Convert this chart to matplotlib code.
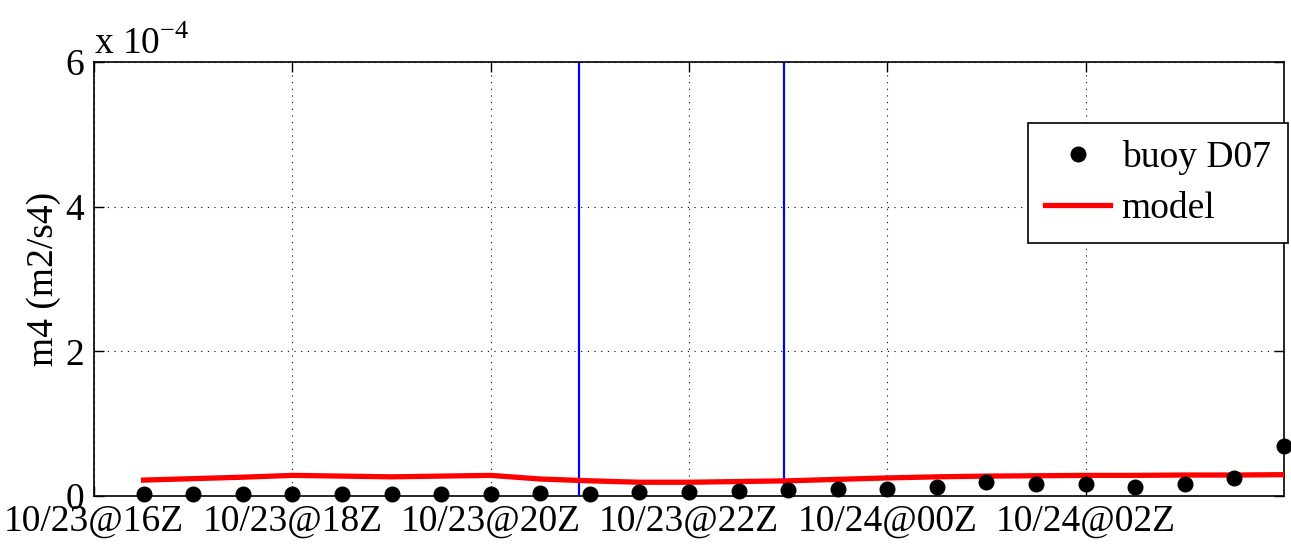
import matplotlib
matplotlib.use("Agg")
import matplotlib.pyplot as plt
import numpy as np

plt.rcParams['font.family'] = ['Liberation Serif', 'DejaVu Serif']
plt.rcParams['mathtext.fontset'] = 'custom'
plt.rcParams['mathtext.rm'] = 'Liberation Serif'

# time in hours since 10/23 16Z
hours = [0.5, 1.0, 1.5, 2.0, 2.5, 3.0, 3.5, 4.0, 4.5, 5.0, 5.5, 6.0,
         6.5, 7.0, 7.5, 8.0, 8.5, 9.0, 9.5, 10.0, 10.5, 11.0, 11.5, 12.0]

buoy_m4 = [2.8e-6, 2.8e-6, 2.8e-6, 2.8e-6, 2.8e-6, 2.8e-6, 2.8e-6, 2.8e-6,
           4.5e-6, 2.8e-6, 5.1e-6, 6.0e-6, 7.4e-6, 8.3e-6, 9.2e-6, 9.2e-6,
           1.29e-5, 1.98e-5, 1.61e-5, 1.61e-5, 1.20e-5, 1.66e-5, 2.44e-5, 6.96e-5]

model_m4 = [2.2e-5, 2.4e-5, 2.6e-5, 2.85e-5, 2.75e-5, 2.65e-5, 2.75e-5, 2.85e-5,
            2.35e-5, 2.1e-5, 1.9e-5, 1.9e-5, 2.0e-5, 2.1e-5, 2.3e-5, 2.5e-5,
            2.65e-5, 2.75e-5, 2.8e-5, 2.85e-5, 2.85e-5, 2.9e-5, 2.9e-5, 2.95e-5]

event_hours = [4.89, 6.96]

tick_hours = [0, 2, 4, 6, 8, 10]
tick_labels = ['10/23@16Z', '10/23@18Z', '10/23@20Z', '10/23@22Z',
               '10/24@00Z', '10/24@02Z']
y_ticks = [0, 2e-4, 4e-4, 6e-4]
y_tick_labels = ['0', '2', '4', '6']

FS = 27

fig = plt.figure(figsize=(12.91, 5.44), dpi=100)
ax = fig.add_axes([94 / 1291, 1 - 496 / 544, (1284 - 94) / 1291, (496 - 62) / 544])

for xv in event_hours:
    ax.axvline(xv, color='#0000ff', lw=1.6, zorder=2)

ax.plot(hours, buoy_m4, 'o', color='black', markersize=10.5, label='buoy D07',
        zorder=4, clip_on=False)
ax.plot(hours, model_m4, '-', color='#ff0000', lw=3.8, label='model', zorder=3)

ax.set_xlim(0, 12)
ax.set_ylim(0, 6e-4)
ax.set_xticks(tick_hours)
ax.set_xticklabels(tick_labels)
ax.set_yticks(y_ticks)
ax.set_yticklabels(y_tick_labels)
ax.tick_params(direction='in', labelsize=FS, length=7, width=1,
               top=True, right=True)
ax.tick_params(axis='x', pad=6)
ax.tick_params(axis='y', pad=7)
ax.grid(True, linestyle=(0, (1, 5)), color='black', lw=0.8)
for s in ax.spines.values():
    s.set_linewidth(1.2)

ax.set_ylabel('m4 (m2/s4)', fontsize=FS, labelpad=3)
ax.text(0.0, 1.0, r'x 10$^{-4}$', transform=ax.transAxes, fontsize=FS,
        ha='left', va='bottom')

leg = ax.legend(loc='upper right', bbox_to_anchor=(1.003, 0.86), fontsize=FS,
                frameon=True, fancybox=False, edgecolor='black',
                handlelength=1.75, borderpad=0.45, labelspacing=0.45,
                handletextpad=0.3, borderaxespad=0)
leg.get_frame().set_linewidth(1.2)
leg.get_frame().set_alpha(1)

fig.savefig('out.png', dpi=100)
